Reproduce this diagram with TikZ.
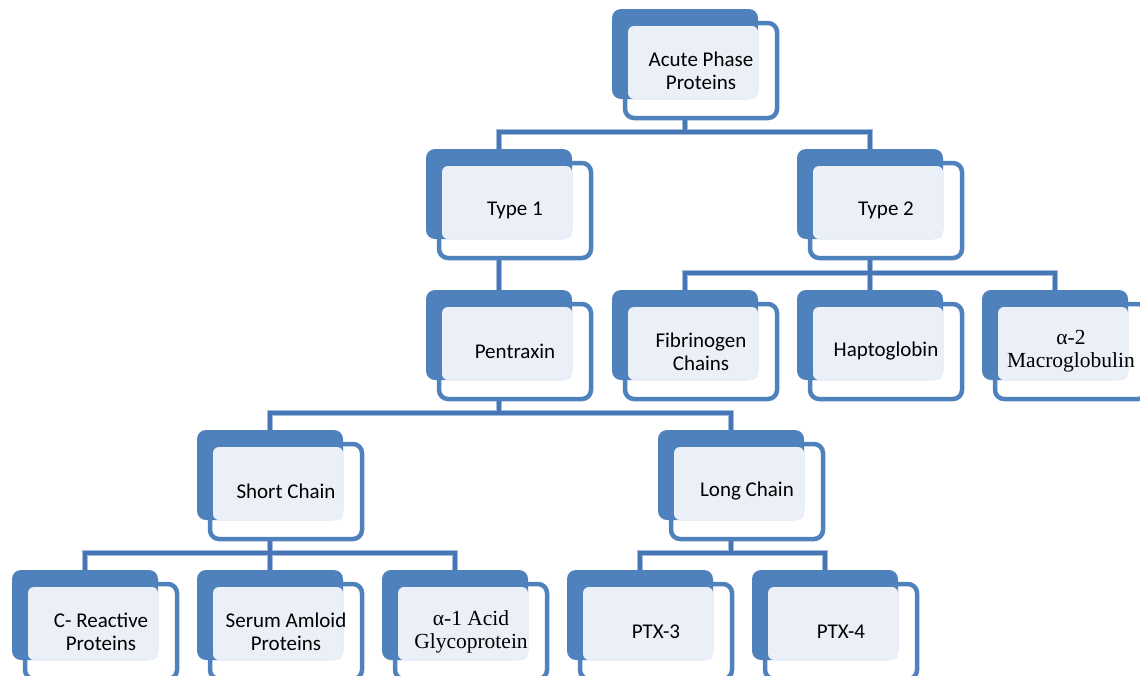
\documentclass[tikz,border=0pt]{standalone}
\usepackage{fontspec}
\setmainfont{Carlito}
\newfontfamily\serifalt{Liberation Serif}
\definecolor{apblue}{HTML}{4F81BD}
\definecolor{aplight}{HTML}{EBF0F8}
\definecolor{apconn}{HTML}{4676B5}
\definecolor{apconnlight}{HTML}{A3BBDD}
\pgfdeclarelayer{bg}
\pgfsetlayers{bg,main}
\tikzset{
  backbox/.style={fill=apblue, rounded corners=9pt, minimum width=146pt, minimum height=90pt, inner sep=0pt, outer sep=0pt},
  framebox/.style={draw=apblue, line width=4.5pt, fill=white, rounded corners=9pt, minimum width=152pt, minimum height=95pt, inner sep=0pt},
  lightbox/.style={fill=aplight, rounded corners=6pt, minimum width=130pt, minimum height=73pt, inner sep=0pt},
  boxtext/.style={align=center, font=\fontsize{21}{23}\selectfont, inner sep=0pt},
  serifbox/.style={font=\serifalt\fontsize{21.5}{23}\selectfont},
  connedge/.style={draw=apconnlight, line width=6pt},
  conn/.style={draw=apconn, line width=3.5pt},
}
\newcommand\apnode[5][]{%
  \node[framebox] (#2-f) at (#3+89, #4+61.5) {};
  \node[backbox] (#2) at (#3+73, #4+45) {};
  \node[lightbox] (#2-l) at (#3+81, #4+53.5) {};
  \node[boxtext,#1] (#2-t) at (#3+89, #4+61.5) {#5};
}
\begin{document}
\begin{tikzpicture}[x=1pt, y=-1pt]
\useasboundingbox (0,0) rectangle (1140,675);
\clip (0,0) rectangle (1140,675);
\apnode{acute}{612}{9}{Acute Phase\\Proteins}
\apnode{type1}{426}{149}{Type 1}
\apnode{type2}{797}{149}{Type 2}
\apnode{pentraxin}{426}{290}{Pentraxin}
\apnode{fibrin}{612}{290}{Fibrinogen\\Chains}
\apnode{hapto}{797}{290}{Haptoglobin}
\apnode[serifbox]{alpha2}{982}{290}{α-2\\Macroglobulin}
\apnode{short}{197}{430}{Short Chain}
\apnode{long}{658}{430}{Long Chain}
\apnode{crp}{12}{570}{C- Reactive\\Proteins}
\apnode{saa}{197}{570}{Serum Amloid\\Proteins}
\apnode[serifbox]{agp}{382}{570}{α-1 Acid\\Glycoprotein}
\apnode{ptx3}{567}{570}{PTX-3}
\apnode{ptx4}{752}{570}{PTX-4}
\begin{pgfonlayer}{bg}
  \foreach \p/\c in {acute/type1, acute/type2, type1/pentraxin,
                     type2/fibrin, type2/hapto, type2/alpha2,
                     pentraxin/short, pentraxin/long,
                     short/crp, short/saa, short/agp,
                     long/ptx3, long/ptx4}
    \draw[connedge] (\p.south) |- ([yshift=17pt]\c.north) -- (\c.north);
  \foreach \p/\c in {acute/type1, acute/type2, type1/pentraxin,
                     type2/fibrin, type2/hapto, type2/alpha2,
                     pentraxin/short, pentraxin/long,
                     short/crp, short/saa, short/agp,
                     long/ptx3, long/ptx4}
    \draw[conn] (\p.south) |- ([yshift=17pt]\c.north) -- (\c.north);
\end{pgfonlayer}
\end{tikzpicture}
\end{document}
